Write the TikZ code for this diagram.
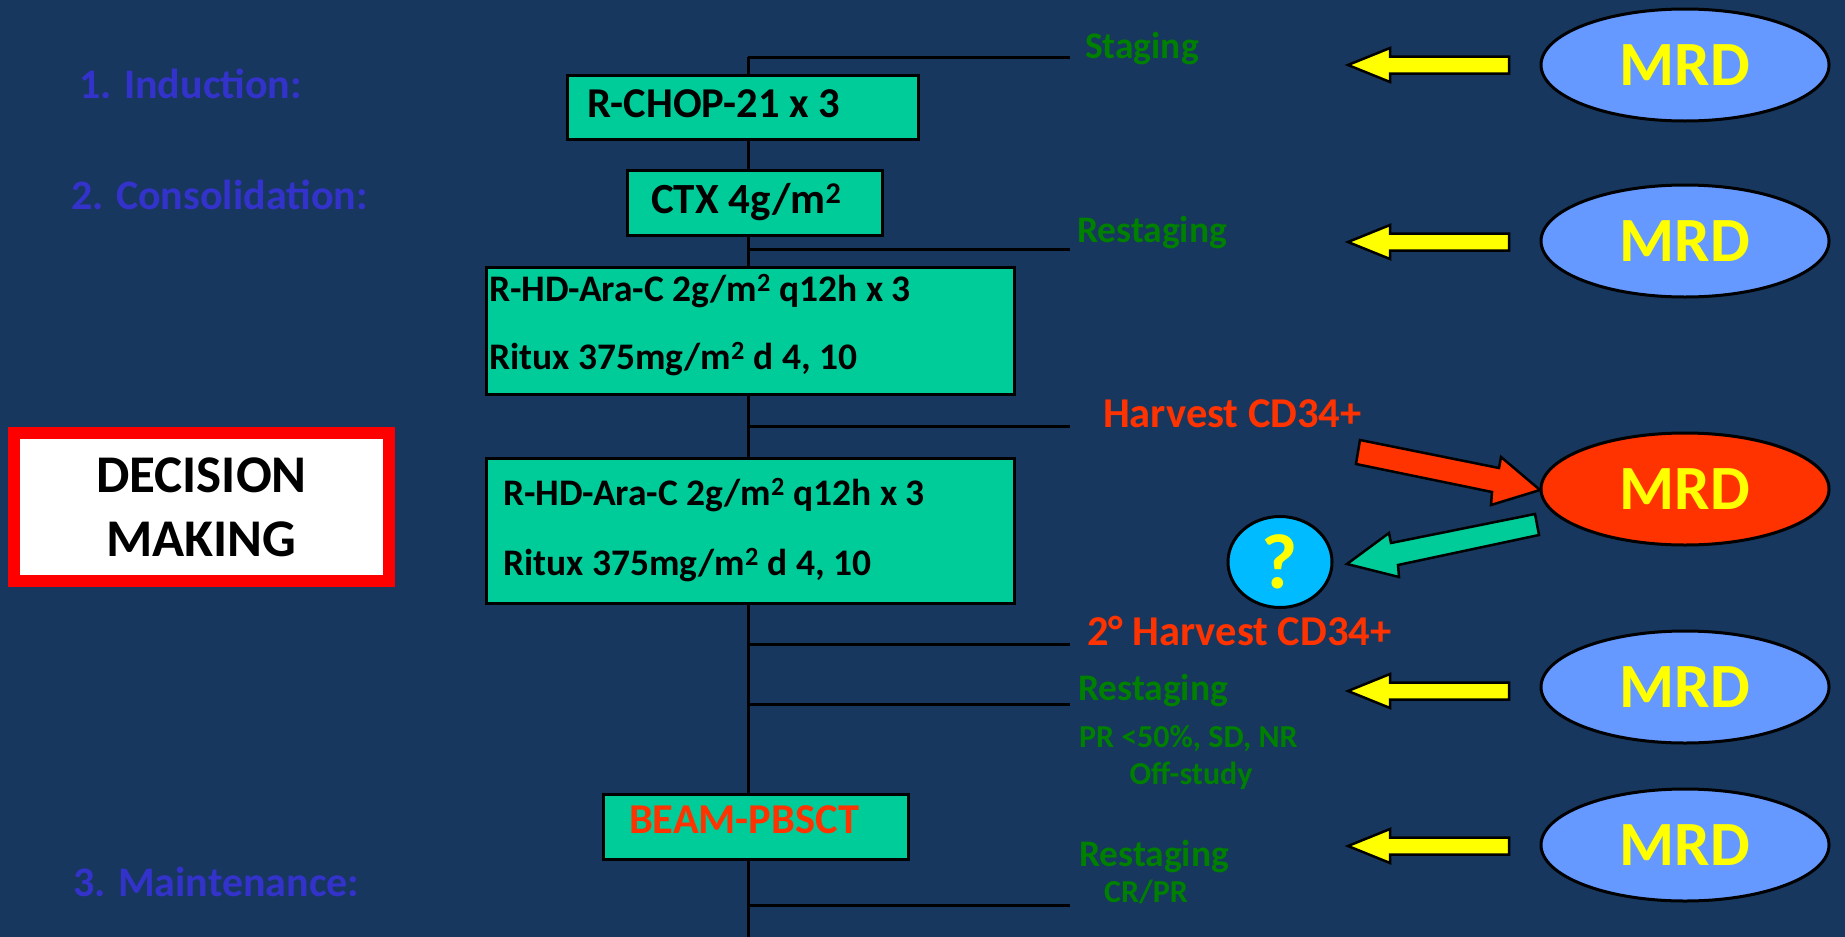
\documentclass[tikz,border=0pt]{standalone}
\usepackage{fontspec}
\setmainfont{Carlito}
\usetikzlibrary{shapes.geometric}
\definecolor{bg}{RGB}{23,55,94}
\definecolor{boxgreen}{RGB}{0,204,153}
\definecolor{lblue}{RGB}{51,51,204}
\definecolor{tgreen}{RGB}{0,128,0}
\definecolor{tred}{RGB}{255,51,0}
\definecolor{mrdblue}{RGB}{102,153,255}
\definecolor{qblue}{RGB}{0,187,255}
\definecolor{tyellow}{RGB}{255,255,0}
\newcommand\myfs[1]{\fontsize{#1}{#1}\selectfont\bfseries}
\tikzset{
  txt/.style={anchor=base west, inner sep=0pt, outer sep=0pt},
  gbox/.style={draw=black, line width=3pt, fill=boxgreen, anchor=north west, inner sep=0pt},
  branch/.style={draw=black, line width=3pt},
  mrd/.style={ellipse, draw=black, line width=3pt, fill=mrdblue, minimum width=288pt, minimum height=112pt, inner sep=0pt, text=tyellow, font=\myfs{63}},
  blockarrow/.style={draw=black, line width=2.5pt, line join=miter},
  pics/yarrow/.style={code={
    \filldraw[blockarrow, fill=tyellow] (0,-8.5) -- (-119,-8.5) -- (-119,-17) -- (-161,0) -- (-119,17) -- (-119,8.5) -- (0,8.5) -- cycle;}}
}
\begin{document}
\begin{tikzpicture}[x=1pt,y=-1pt]
\fill[bg] (0,0) rectangle (1845,937);
\useasboundingbox (0,0) rectangle (1845,937);

% trunk and branches
\coordinate (top) at (748,57);
\coordinate (bot) at (748,937);
\draw[branch] (top) -- (bot);
\foreach \n/\yy in {a/57,b/249,c/426,d/644,e/704,f/905}{
  \coordinate (s\n) at (748,\yy);
  \coordinate (e\n) at (1070,\yy);
  \draw[branch] (s\n) -- (e\n);
}

% left labels
\node[txt, text=lblue, font=\myfs{42}] (ind) at (79,98) {1. Induction:};
\node[txt, text=lblue, font=\myfs{42}] (cons) at (71,209) {2. Consolidation:};
\node[txt, text=lblue, font=\myfs{42}] (maint) at (73,896) {3. Maintenance:};

% decision box
\node[draw=red, line width=12pt, fill=white, minimum width=375pt, minimum height=148pt, inner sep=0pt,
      align=center, font=\fontsize{53}{64}\selectfont\bfseries] (dec) at (201.5,507) {DECISION\\MAKING};

% treatment boxes
\node[gbox, minimum width=351pt, minimum height=64pt] (rchop) at (566,74) {};
\node[txt, font=\myfs{42.5}] (rchopt) at (587,117) {R-CHOP-21 x 3};

\node[gbox, minimum width=255pt, minimum height=65pt] (ctx) at (626,169) {};
\node[txt, font=\myfs{43}] (ctxt) at (651,213) {CTX 4g/m\textsuperscript{2}};

\node[gbox, minimum width=528pt, minimum height=127pt] (hd1) at (485,266) {};
\node[txt, font=\myfs{37.5}] (hd1a) at (489,301) {R-HD-Ara-C 2g/m\textsuperscript{2} q12h x 3};
\node[txt, font=\myfs{37.5}] (hd1b) at (489,369) {Ritux 375mg/m\textsuperscript{2} d 4, 10};

\node[gbox, minimum width=528pt, minimum height=145pt] (hd2) at (485,457) {};
\node[txt, font=\myfs{37.5}] (hd2a) at (503,505) {R-HD-Ara-C 2g/m\textsuperscript{2} q12h x 3};
\node[txt, font=\myfs{37.5}] (hd2b) at (503,575) {Ritux 375mg/m\textsuperscript{2} d 4, 10};

\node[gbox, minimum width=305pt, minimum height=65pt] (beam) at (602,793) {};
\node[txt, text=tred, font=\myfs{42.5}] (beamt) at (629,833) {BEAM-PBSCT};

% right labels
\node[txt, text=tgreen, font=\myfs{37.5}] (stg) at (1085,58) {Staging};
\node[txt, text=tgreen, font=\myfs{37.5}] (rst1) at (1077,242) {Restaging};
\node[txt, text=tred, font=\myfs{42.5}] (hv1) at (1103,427) {Harvest CD34+};
\node[txt, text=tred, font=\myfs{42.5}] (hv2) at (1087,645) {2° Harvest CD34+};
\node[txt, text=tgreen, font=\myfs{37.5}] (rst2) at (1078,700) {Restaging};
\node[txt, text=tgreen, font=\myfs{32}] (pr) at (1079,747) {PR <50\%, SD, NR};
\node[txt, anchor=base, text=tgreen, font=\myfs{32}] (off) at (1191,784) {Off-study};
\node[txt, text=tgreen, font=\myfs{37.5}] (rst3) at (1079,866) {Restaging};
\node[txt, anchor=base, text=tgreen, font=\myfs{32}] (crpr) at (1146,902) {CR/PR};

% MRD ellipses
\node[mrd] (m1) at (1685,65) {MRD};
\node[mrd] (m2) at (1685,241) {MRD};
\node[mrd, fill=tred] (m3) at (1685,489) {MRD};
\node[mrd] (m4) at (1685,687) {MRD};
\node[mrd] (m5) at (1685,845) {MRD};

% question ellipse
\node[ellipse, draw=black, line width=3pt, fill=qblue, minimum width=104pt, minimum height=91pt, inner sep=0pt,
      text=tyellow, font=\myfs{78}] (q) at (1280,562) {?};

% yellow arrows
\pic at (1509,65) {yarrow};
\pic at (1509,242) {yarrow};
\pic at (1509,691) {yarrow};
\pic at (1509,846) {yarrow};

% red arrow to MRD
\filldraw[blockarrow, fill=tred] (1360,440) -- (1499,468) -- (1501,457) -- (1540,490) -- (1491,505) -- (1492,492) -- (1356,464) -- cycle;
% teal arrow to ?
\filldraw[blockarrow, fill=boxgreen] (1535,514) -- (1539,535) -- (1398,565) -- (1399,577) -- (1347,564) -- (1389,533) -- (1391,543) -- cycle;
\end{tikzpicture}
\end{document}
